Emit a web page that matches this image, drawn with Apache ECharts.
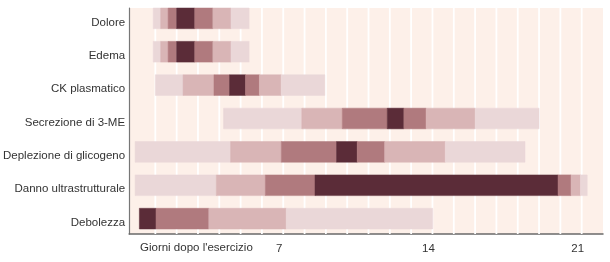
<!DOCTYPE html>
<html>
<head>
<meta charset="utf-8">
<script src="https://cdn.jsdelivr.net/npm/echarts@6/dist/echarts.min.js"></script>
<style>
html,body{margin:0;padding:0;background:#ffffff;}
#chart{width:610px;height:262px;}
</style>
</head>
<body>
<div id="chart"></div>
<script>
// Categories (top to bottom)
const categories = ['Dolore', 'Edema', 'CK plasmatico', 'Secrezione di 3-ME',
  'Deplezione di glicogeno', 'Danno ultrastrutturale', 'Debolezza'];

// Segment boundaries (days after exercise) and intensity level of each segment (1 light .. 4 dark)
const doloreEdges = [0.9, 1.25, 1.6, 2.0, 2.85, 3.7, 4.55, 5.4];
const doloreLevels = [1, 2, 3, 4, 3, 2, 1];
const edemaEdges = [0.9, 1.25, 1.6, 2.0, 2.85, 3.7, 4.55, 5.4];
const edemaLevels = [1, 2, 3, 4, 3, 2, 1];
const ckEdges = [1.0, 2.3, 3.75, 4.48, 5.23, 5.88, 6.9, 8.95];
const ckLevels = [1, 2, 3, 4, 3, 2, 1];
const meEdges = [4.2, 7.87, 9.77, 11.88, 12.66, 13.7, 16.0, 19.0];
const meLevels = [1, 2, 3, 4, 3, 2, 1];
const glicoEdges = [0.05, 4.53, 6.91, 9.5, 10.47, 11.76, 14.6, 18.34];
const glicoLevels = [1, 2, 3, 4, 3, 2, 1];
const dannoEdges = [0.05, 3.86, 6.16, 8.49, 19.89, 20.5, 20.94, 21.26];
const dannoLevels = [1, 2, 3, 4, 3, 2, 1];
const debolezzaEdges = [0.25, 1.03, 3.51, 7.14, 14.01];
const debolezzaLevels = [4, 3, 2, 1];

// Axis ticks
const xTickValues = [7, 14, 21];
const gridDays = [1,2,3,4,5,6,7,8,9,10,11,12,13,14,15,16,17,18,19,20,21];
const xAxisTitle = "Giorni dopo l'esercizio";

const levelColors = {1: '#ead7d8', 2: '#d9b5b6', 3: '#b07a7e', 4: '#5b2c38'};
const font = '"Liberation Sans", Arial, Helvetica, sans-serif';
const labelShift = 0.12; // category labels sit slightly below the bar centres

const rows = [
  [doloreEdges, doloreLevels], [edemaEdges, edemaLevels], [ckEdges, ckLevels],
  [meEdges, meLevels], [glicoEdges, glicoLevels], [dannoEdges, dannoLevels],
  [debolezzaEdges, debolezzaLevels]
];
const segData = [];
rows.forEach(function (r, i) {
  const edges = r[0], levels = r[1];
  for (let k = 0; k < levels.length; k++) {
    segData.push([edges[k], edges[k + 1], i, levels[k]]);
  }
});

const chart = echarts.init(document.getElementById('chart'), null, {renderer: 'canvas'});
chart.setOption({
  animation: false,
  backgroundColor: '#ffffff',
  title: {
    text: xAxisTitle, left: 140, top: 242, padding: 0,
    textStyle: {fontFamily: font, fontSize: 11.5, fontWeight: 'normal', color: '#333'}
  },
  grid: {left: 128, right: 7, top: 8, bottom: 28, show: true, backgroundColor: '#fdf0e9', borderWidth: 0},
  xAxis: {
    type: 'value', min: -0.23, max: 22,
    splitLine: {show: false},
    axisTick: {show: false},
    axisLine: {show: true, onZero: false, lineStyle: {color: '#6a6a6a', width: 1.5}},
    axisLabel: {
      customValues: xTickValues, margin: 9, padding: [0, 8, 0, 0],
      fontFamily: font, fontSize: 11.5, color: '#333'
    }
  },
  yAxis: {
    type: 'value', inverse: true, min: -0.31, max: 6.46,
    splitLine: {show: false},
    axisTick: {show: false},
    axisLine: {show: true, onZero: false, lineStyle: {color: '#777', width: 1.2}},
    axisLabel: {
      customValues: categories.map(function (c, i) { return i + labelShift; }),
      formatter: function (v) { return categories[Math.round(v)] || ''; },
      margin: 4,
      fontFamily: font, fontSize: 11.5, color: '#333'
    }
  },
  series: [
    {
      type: 'custom', silent: true, z: 1,
      data: gridDays.map(function (d) { return [d]; }),
      renderItem: function (params, api) {
        const top = api.coord([api.value(0), -0.31]);
        const bot = api.coord([api.value(0), 6.46]);
        return {type: 'line', shape: {x1: top[0], y1: top[1], x2: bot[0], y2: bot[1]},
          style: {stroke: '#ffffff', lineWidth: 1.8}};
      }
    },
    {
      type: 'custom', silent: true, z: 2,
      data: segData,
      renderItem: function (params, api) {
        const s = api.coord([api.value(0), api.value(2)]);
        const e = api.coord([api.value(1), api.value(2)]);
        const h = api.size([0, 1])[1] * 0.62;
        return {type: 'rect', shape: {x: s[0], y: s[1] - h / 2, width: e[0] - s[0], height: h},
          style: {fill: levelColors[api.value(3)], stroke: levelColors[api.value(3)], lineWidth: 0.5}};
      }
    }
  ]
});
</script>
</body>
</html>
